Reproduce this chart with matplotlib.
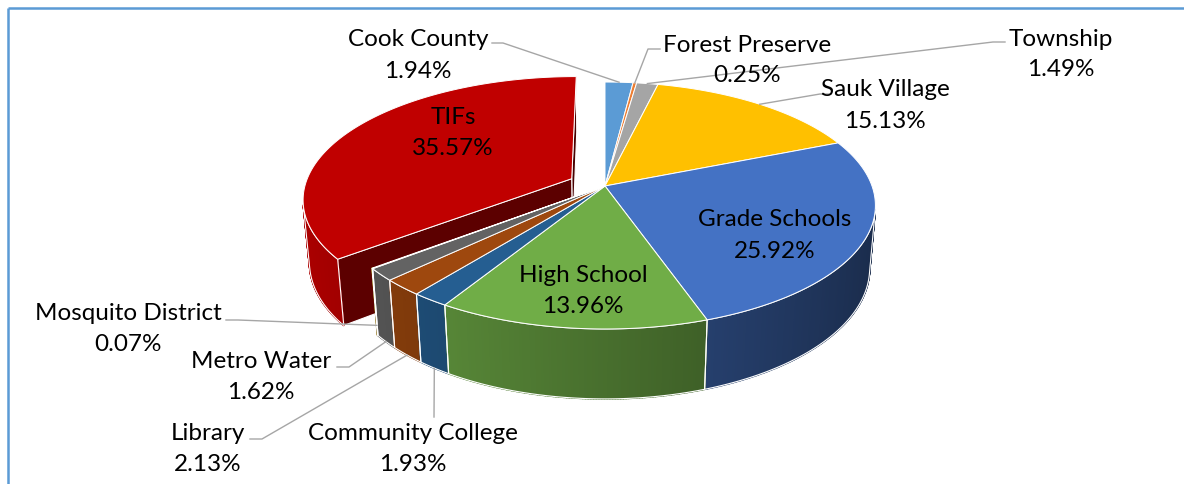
import numpy as np
import matplotlib.pyplot as plt
from matplotlib.patches import Polygon
from matplotlib.colors import to_rgb

names = ["Cook County", "Forest Preserve", "Township", "Sauk Village", "Grade Schools",
         "High School", "Community College", "Library", "Metro Water", "Mosquito District", "TIFs"]
shares = [1.94, 0.25, 1.49, 15.13, 25.92, 13.96, 1.93, 2.13, 1.62, 0.07, 35.57]
colors = ["#5B9BD5", "#ED7D31", "#A5A5A5", "#FFC000", "#4472C4", "#70AD47",
          "#255E91", "#9E480E", "#636363", "#997300", "#C00000"]
explode = [0, 0, 0, 0, 0, 0, 0, 0, 0, 0, 0.14]

# label centres (first line) in pixels, second line sits LINE_GAP below
label_x = [418, 747, 1061, 885, 775, 583, 413, 208, 261, 128, 453]
label_y = [40, 45, 39, 90, 220, 276, 434, 434, 362, 314, 118]
# leader lines: start next to the label, short elbow, then to the slice
leader_start = {0: (492, 44), 1: (660, 50), 2: (1005, 43), 3: (831, 95),
                6: (434, 418), 7: (250, 440), 8: (337, 368), 9: (226, 321)}
leader_knee = {0: (503, 44), 1: (648, 50), 2: (993, 43), 3: (820, 95),
               6: (434, 418), 7: (262, 440), 8: (349, 368), 9: (238, 321)}
leader_z = {0: 0, 1: 0, 2: 0, 3: 0, 6: -1, 7: -1, 8: -1, 9: -0.85}
LINE_GAP = 31

# perspective camera
CX, CY, R = 605, 187, 267
ELEV = np.radians(26.8)
DIST = 5.65
H = 0.266
CAM = np.array([0.0, DIST * np.cos(ELEV), DIST * np.sin(ELEV)])
FWD = -CAM / DIST
UP = np.array([0.0, -np.sin(ELEV), np.cos(ELEV)])


def project(p):
    p = np.atleast_2d(p)
    v = p - CAM
    depth = v @ FWD
    sx = v[:, 0] / depth * DIST
    sy = (v @ UP) / depth * DIST
    return np.column_stack([CX + R * sx, CY - R * sy])


def depth_of(p):
    return float(np.mean((np.atleast_2d(p) - CAM) @ FWD))


def rim(th, z, off):
    th = np.atleast_1d(th)
    return np.column_stack([np.sin(th) + off[0], -np.cos(th) + off[1], np.full(th.shape, z)])


def shade(c, nx):
    # light from the left: faces turned right get darker
    f = 0.64 - 0.26 * nx
    return tuple(np.clip(np.array(to_rgb(c)) * f, 0, 1))


n = len(shares)
total = sum(shares)
bounds = np.concatenate([[0], np.cumsum(shares)]) / total * 2 * np.pi
mids = (bounds[:-1] + bounds[1:]) / 2
offsets = [np.array([e * np.sin(m), -e * np.cos(m), 0.0]) for e, m in zip(explode, mids)]

fig = plt.figure(figsize=(11.84, 4.85), dpi=100)
ax = fig.add_axes([0, 0, 1, 1])
ax.set_xlim(0, 1184)
ax.set_ylim(485, 0)
ax.axis("off")

# frame
ax.plot([8, 8], [485, 9], color="#5B9BD5", lw=1.8, solid_capstyle="butt")
ax.plot([8, 1184], [9, 9], color="#5B9BD5", lw=1.8, solid_capstyle="butt")

groups = {}
for i in range(n):
    groups.setdefault(explode[i], []).append(i)
bodies = sorted(groups.values(), key=lambda b: depth_of(offsets[b[0]]), reverse=True)

z = 1
for body in bodies:
    pieces = []
    outlines = []
    for i in body:
        off = offsets[i]
        t0, t1 = bounds[i], bounds[i + 1]
        steps = max(2, int(np.degrees(t1 - t0) * 2))
        th = np.linspace(t0, t1, steps + 1)
        top = rim(th, 0, off)
        bot = rim(th, -H, off)
        vis = []
        for k in range(steps):
            tm = (th[k] + th[k + 1]) / 2
            nrm = np.array([np.sin(tm), -np.cos(tm), 0])
            quad = np.array([top[k], top[k + 1], bot[k + 1], bot[k]])
            if nrm @ (CAM - quad.mean(axis=0)) > 0:
                vis.append(k)
                pieces.append((depth_of(quad), project(quad), shade(colors[i], nrm[0]), None))
        if vis:
            a, b = vis[0], vis[-1] + 1
            outlines.append(np.vstack([project(top[a:b + 1]), project(bot[a:b + 1])[::-1]]))
        # cut faces where the neighbour belongs to another body
        centre = off.copy()
        for t, nb, sgn in ((t0, (i - 1) % n, -1), (t1, (i + 1) % n, 1)):
            if explode[nb] == explode[i]:
                continue
            nrm = sgn * np.array([np.cos(t), np.sin(t), 0])
            face = np.array([centre, rim(t, 0, off)[0], rim(t, -H, off)[0], centre + [0, 0, -H]])
            if nrm @ (CAM - face.mean(axis=0)) > 0:
                pieces.append((depth_of(face), project(face), shade(colors[i], nrm[0]), "white"))
    for _, xy, fc, ec in sorted(pieces, key=lambda p: -p[0]):
        ax.add_patch(Polygon(xy, closed=True, fc=fc, ec=ec if ec else fc,
                             lw=0.8 if ec else 1.2, zorder=z, joinstyle="round"))
    for xy in outlines:
        ax.add_patch(Polygon(xy, closed=True, fill=False, ec="white", lw=0.8, zorder=z + 1))
    for i in body:
        off = offsets[i]
        t0, t1 = bounds[i], bounds[i + 1]
        th = np.linspace(t0, t1, max(2, int(np.degrees(t1 - t0) * 2)) + 1)
        pts = np.vstack([off, rim(th, 0, off)])
        ax.add_patch(Polygon(project(pts), closed=True, fc=colors[i], ec="white",
                             lw=0.7, zorder=z + 2, joinstyle="round"))
    z += 3

# leader lines
for i, (sx, sy) in leader_start.items():
    kx, ky = leader_knee[i]
    anchor = project(rim(mids[i], leader_z[i] * H, offsets[i]))[0]
    ax.plot([sx, kx, anchor[0]], [sy, ky, anchor[1]], color="#A6A6A6", lw=1.0, zorder=20)

# labels
font = dict(family=["Lato", "DejaVu Sans"], fontsize=17.5, color="black", ha="center", va="center")
for i in range(n):
    ax.text(label_x[i], label_y[i], names[i], zorder=30, **font)
    ax.text(label_x[i], label_y[i] + LINE_GAP, f"{shares[i]:.2f}%", zorder=30, **font)

fig.savefig("out.png", dpi=100)
